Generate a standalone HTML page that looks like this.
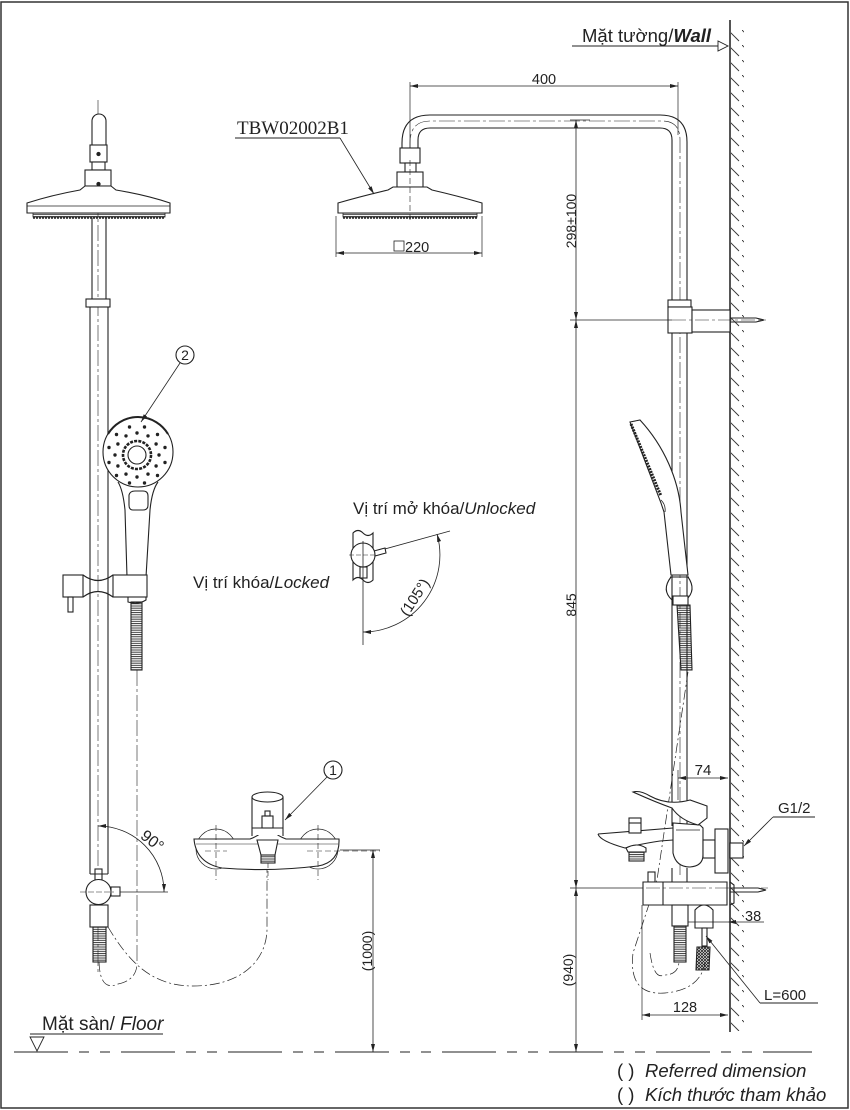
<!DOCTYPE html>
<html><head><meta charset="utf-8">
<style>
html,body{margin:0;padding:0;background:#fff;}
svg{display:block;}
text{font-family:"Liberation Sans",sans-serif;fill:#222;}
</style></head>
<body>
<svg width="850" height="1110" viewBox="0 0 850 1110" xmlns="http://www.w3.org/2000/svg">
<defs>
<marker id="ar" viewBox="0 0 10 10" refX="10" refY="5" markerWidth="8" markerHeight="8" markerUnits="userSpaceOnUse" orient="auto-start-reverse"><path d="M0,2.5 L10,5 L0,7.5 z" fill="#222"/></marker>
<pattern id="wh" patternUnits="userSpaceOnUse" width="14" height="15"><line x1="0" y1="0" x2="11" y2="11" stroke="#333" stroke-width="0.9"/></pattern>
<pattern id="hs" patternUnits="userSpaceOnUse" width="20" height="2.2"><line x1="0" y1="1" x2="20" y2="1" stroke="#222" stroke-width="0.9"/></pattern>
<pattern id="xh" patternUnits="userSpaceOnUse" width="3" height="3"><path d="M0,0 L3,3 M3,0 L0,3" stroke="#222" stroke-width="0.8"/></pattern>
</defs>

<!-- frame -->
<rect x="1" y="2" width="847" height="1106" fill="none" stroke="#333" stroke-width="1.5"/>

<g stroke="#222" fill="none" stroke-width="1.1">

<!-- ============ LEFT VIEW ============ -->
<line x1="98" y1="100" x2="98" y2="975" stroke-dasharray="16,3,3,3" stroke-width="0.6"/>
<path d="M92,145 V121 a7,7 0 0 1 14,0 V145" fill="#fff"/>
<rect x="90" y="145" width="17" height="17" fill="#fff"/>
<circle cx="98.5" cy="154" r="1.6" fill="#222"/>
<rect x="92" y="162" width="13" height="8" fill="#fff"/>
<rect x="85" y="170" width="26" height="16" fill="#fff"/>
<circle cx="98.5" cy="184" r="1.6" fill="#222"/>
<path d="M27,203 Q52,195 80,190 L85,186 H111 L116,190 Q146,195 170,203 V213 H27 Z" fill="#fff"/>
<line x1="27" y1="206" x2="170" y2="206" stroke-width="0.7"/>
<rect x="33" y="213" width="132" height="4" fill="url(#hs)" stroke-width="0.8"/>
<line x1="33" y1="218" x2="165" y2="218" stroke-width="1.6" stroke-dasharray="2,1"/>
<line x1="92" y1="218" x2="92" y2="299"/>
<line x1="106" y1="218" x2="106" y2="299"/>
<rect x="86" y="299" width="24" height="8" fill="#fff"/>
<line x1="90" y1="307" x2="90" y2="874"/>
<line x1="108" y1="307" x2="108" y2="874"/>

<!-- hand shower left -->
<path d="M118,482 Q123,490 125,510 L127,577 H146 L150,510 Q152,490 158,482" fill="#fff"/>
<path d="M129,495 Q130,491 135,491 H143 Q148,491 148,496 V505 Q148,510 143,510 H133 Q129,510 129,505 Z"/>
<circle cx="138" cy="452" r="35" fill="#fff"/>
<path d="M108,434 A35,35 0 0 1 168,434" stroke-width="2"/>
<circle cx="137" cy="455" r="14" stroke-width="2.6" stroke-dasharray="3,1.2"/>
<circle cx="137" cy="455" r="9" fill="#fff"/>
<g fill="#222" stroke="none">
<circle cx="159" cy="455" r="1.7"/><circle cx="156.1" cy="466" r="1.7"/><circle cx="148" cy="474.1" r="1.7"/><circle cx="137" cy="477" r="1.7"/><circle cx="126" cy="474.1" r="1.7"/><circle cx="117.9" cy="466" r="1.7"/><circle cx="115" cy="455" r="1.7"/><circle cx="117.9" cy="444" r="1.7"/><circle cx="126" cy="435.9" r="1.7"/><circle cx="137" cy="433" r="1.7"/><circle cx="148" cy="435.9" r="1.7"/><circle cx="156.1" cy="444" r="1.7"/>
<circle cx="165" cy="462.5" r="1.7"/><circle cx="157.5" cy="475.5" r="1.7"/><circle cx="144.5" cy="483" r="1.7"/><circle cx="129.5" cy="483" r="1.7"/><circle cx="116.5" cy="475.5" r="1.7"/><circle cx="109" cy="462.5" r="1.7"/><circle cx="109" cy="447.5" r="1.7"/><circle cx="116.5" cy="434.5" r="1.7"/><circle cx="129.5" cy="427" r="1.7"/><circle cx="144.5" cy="427" r="1.7"/><circle cx="157.5" cy="434.5" r="1.7"/><circle cx="165" cy="447.5" r="1.7"/>
</g>
<!-- holder -->
<rect x="63" y="575" width="20" height="22" fill="#fff"/>
<path d="M83,575 Q98,586 113,575 M83,597 Q98,586 113,597"/>
<rect x="113" y="575" width="34" height="22" fill="#fff"/>
<path d="M128,597 V602 Q138,605 146,600 V597"/>
<rect x="68" y="597" width="5" height="15"/>
<rect x="131" y="602" width="11" height="68" fill="url(#hs)"/>
<line x1="137" y1="670" x2="137" y2="963" stroke-dasharray="16,3,3,3" stroke-width="0.6"/>

<!-- diverter left -->
<rect x="95" y="869" width="7" height="11" fill="#fff"/>
<line x1="90" y1="874" x2="108" y2="874"/>
<circle cx="98.5" cy="892" r="12.5" fill="#fff"/>
<rect x="111" y="887" width="9" height="9" fill="#fff"/>
<line x1="80" y1="892" x2="114" y2="892" stroke-width="0.6" stroke-dasharray="6,2"/>
<rect x="90" y="905" width="18" height="22" fill="#fff"/>
<rect x="93" y="927" width="13" height="35" fill="url(#hs)"/>
<!-- 90 deg -->
<path d="M98,826 A66,66 0 0 1 164,892" stroke-width="0.8" marker-start="url(#ar)" marker-end="url(#ar)"/>
<line x1="120" y1="892" x2="168" y2="892" stroke-width="0.8"/>
<!-- hose dash left -->
<path d="M99,962 Q100,992 118,984 Q137,980 137,963" stroke-dasharray="10,3,2,3" stroke-width="0.7"/>
<path d="M108,927 C128,960 150,986 193,986 C240,986 266,962 267,930 L267,862" stroke-dasharray="10,3,2,3" stroke-width="0.7"/>

<!-- faucet front -->
<circle cx="216" cy="849" r="20" stroke-width="0.7"/>
<circle cx="318" cy="849" r="20" stroke-width="0.7"/>
<path d="M194,839 H250 Q258,836 262,832 H274 Q278,836 286,839 H339 Q340,862 318,866 Q270,872 222,868 Q196,863 194,839 Z" fill="#fff"/>
<path d="M196,844 H338" stroke-width="0.6"/>
<path d="M216,825 V880 M318,825 V880" stroke-width="0.6" stroke-dasharray="6,3"/>
<path d="M205,851 H227 M307,851 H380" stroke-width="0.6" stroke-dasharray="6,3"/>
<rect x="252" y="797" width="31" height="38" fill="#fff" stroke="none"/>
<line x1="252" y1="797" x2="252" y2="836"/><line x1="283" y1="797" x2="283" y2="836"/>
<ellipse cx="267.5" cy="797" rx="15.5" ry="5" fill="#fff"/>
<rect x="262" y="816" width="11" height="12"/>
<rect x="265" y="811" width="5" height="5"/>
<line x1="252" y1="828" x2="283" y2="828"/>
<path d="M257,840 L278,840 L275,855 H261 Z" fill="#fff"/>
<rect x="261" y="855" width="14" height="8" fill="url(#hs)"/>
<line x1="268" y1="863" x2="268" y2="880" stroke-width="0.6" stroke-dasharray="5,3"/>
<circle cx="333" cy="770" r="9" fill="#fff"/>
<line x1="327" y1="777" x2="285" y2="820" stroke-width="0.8" marker-end="url(#ar)"/>
<!-- (1000) -->
<line x1="340" y1="850" x2="380" y2="850" stroke-width="0.7"/>
<line x1="373" y1="850" x2="373" y2="1052" stroke-width="0.8" marker-start="url(#ar)" marker-end="url(#ar)"/>

<!-- balloon 2 -->
<circle cx="185" cy="355" r="9" fill="#fff"/>
<line x1="180" y1="363" x2="141" y2="422" stroke-width="0.8" marker-end="url(#ar)"/>

<!-- lock diagram -->
<path d="M353,533 Q358,528 363,533 Q368,538 373,533 V580 Q368,585 363,580 Q358,575 353,580 Z" fill="#fff"/>
<line x1="363" y1="555" x2="450" y2="531" stroke-width="0.8"/>
<path d="M374,551 L385,548 L386,553 L375,556" fill="#fff"/>
<circle cx="363" cy="555" r="12" fill="#fff"/>
<line x1="349" y1="555" x2="377" y2="555" stroke-width="0.6" stroke-dasharray="5,2"/>
<rect x="360" y="567" width="7" height="11" fill="#fff"/>
<line x1="363" y1="541" x2="363" y2="645" stroke-width="0.8"/>
<path d="M363,632 A77,77 0 0 0 437,534" stroke-width="0.8" marker-start="url(#ar)" marker-end="url(#ar)"/>

<!-- ============ FLOOR ============ -->
<line x1="14" y1="1052" x2="812" y2="1052" stroke-width="1" stroke-dasharray="54,11,10,11,10,11"/>
<path d="M30,1037 L44,1037 L37,1051 Z" fill="#fff" stroke-width="0.9"/>
<line x1="30" y1="1034" x2="163" y2="1034" stroke-width="0.9"/>

<!-- ============ RIGHT VIEW ============ -->
<rect x="731" y="28" width="13" height="1003" fill="url(#wh)" stroke="none"/>
<line x1="730" y1="20" x2="730" y2="1032" stroke="#555" stroke-width="2"/>
<line x1="572" y1="46" x2="728" y2="46" stroke-width="0.9"/>
<path d="M718,41 L718,51 L728,46 Z" fill="#fff" stroke-width="0.9"/>

<!-- overhead pipe -->
<path d="M402,150 V143 Q402,115 430,115 H660 Q687,115 687,142 V300"/>
<path d="M418,148 V140 Q418,128 430,128 H660 Q672,128 672,140 V300"/>
<path d="M410,150 V143 Q410,121 430,121 H662 Q680,121 680,140 V875" stroke-width="0.6" stroke-dasharray="16,3,3,3"/>
<!-- 400 -->
<line x1="410" y1="82" x2="410" y2="148" stroke-width="0.7"/>
<line x1="678" y1="82" x2="678" y2="135" stroke-width="0.7"/>
<line x1="410" y1="86" x2="678" y2="86" stroke-width="0.8" marker-start="url(#ar)" marker-end="url(#ar)"/>

<!-- right rain head -->
<rect x="400" y="148" width="20" height="15" fill="#fff"/>
<rect x="405" y="163" width="11" height="9" fill="#fff"/>
<rect x="397" y="172" width="26" height="15" fill="#fff"/>
<path d="M338,203 Q362,196 388,190 L393,187 H427 L432,190 Q458,196 482,203 V213 H338 Z" fill="#fff"/>
<line x1="410" y1="160" x2="410" y2="222" stroke-width="0.6" stroke-dasharray="6,3"/>
<rect x="343" y="213" width="134" height="4" fill="url(#hs)" stroke-width="0.8"/>
<line x1="343" y1="218" x2="477" y2="218" stroke-width="1.6" stroke-dasharray="2,1"/>
<line x1="336" y1="216" x2="336" y2="257" stroke-width="0.7"/>
<line x1="482" y1="216" x2="482" y2="257" stroke-width="0.7"/>
<line x1="336" y1="253" x2="482" y2="253" stroke-width="0.8" marker-start="url(#ar)" marker-end="url(#ar)"/>
<rect x="394" y="241" width="10" height="10" stroke-width="0.8"/>
<!-- TBW label -->
<line x1="235" y1="138" x2="340" y2="138" stroke-width="0.9"/>
<line x1="340" y1="138" x2="374" y2="194" stroke-width="0.8" marker-end="url(#ar)"/>

<!-- bracket -->
<rect x="668" y="300" width="23" height="7" fill="#fff"/>
<rect x="668" y="307" width="24" height="26" fill="#fff"/>
<rect x="692" y="310" width="38" height="22" fill="#fff"/>
<line x1="672" y1="333" x2="672" y2="826"/>
<line x1="687" y1="333" x2="687" y2="826"/>
<line x1="672" y1="868" x2="672" y2="882"/>
<line x1="687" y1="868" x2="687" y2="882"/>
<path d="M730,318 H756 L764,320 L756,322 H730"/>
<line x1="672" y1="320" x2="766" y2="320" stroke-width="0.6" stroke-dasharray="14,3,3,3"/>
<!-- vertical dims -->
<line x1="570" y1="120" x2="590" y2="120" stroke-width="0.7"/>
<line x1="570" y1="320" x2="672" y2="320" stroke-width="0.8"/>
<line x1="570" y1="888" x2="646" y2="888" stroke-width="0.8"/>
<line x1="576" y1="120" x2="576" y2="320" stroke-width="0.8" marker-start="url(#ar)" marker-end="url(#ar)"/>
<line x1="576" y1="320" x2="576" y2="888" stroke-width="0.8" marker-start="url(#ar)" marker-end="url(#ar)"/>
<line x1="576" y1="888" x2="576" y2="1052" stroke-width="0.8" marker-start="url(#ar)" marker-end="url(#ar)"/>

<!-- hand shower side -->
<path d="M630,422 L640,420 C664,446 679,480 681,512 L688,575 H671 L664,512 L661,503 Z" fill="#fff"/>
<line x1="631" y1="424" x2="661" y2="496" stroke-width="3" stroke-dasharray="2,1"/>
<path d="M661,500 Q666,505 665,512" stroke-width="0.8"/>
<path d="M671,577 Q661,590 672,600 M688,577 Q697,590 686,600"/>
<line x1="670" y1="577" x2="689" y2="577"/>
<rect x="673" y="596" width="15" height="9" fill="#fff"/>
<path d="M677,605 L690,605 L692,670 L681,670 Z" fill="url(#hs)"/>
<!-- hose dash right -->
<path d="M688,672 L657,880 L633,953 Q628,996 665,993 Q700,990 705,963" stroke-dasharray="10,3,2,3" stroke-width="0.7"/>
<path d="M650,953 Q654,980 664,975 Q678,975 679,962" stroke-dasharray="10,3,2,3" stroke-width="0.7"/>

<!-- faucet side -->
<line x1="678" y1="770" x2="678" y2="800" stroke-width="0.7"/>
<line x1="678" y1="778" x2="728" y2="778" stroke-width="0.8" marker-start="url(#ar)" marker-end="url(#ar)"/>
<path d="M673,823 V853 Q676,867 690,867 Q703,866 703,855 V828 L700,825 Z" fill="#fff"/>
<path d="M676,830 H700" stroke-width="0.7"/>
<path d="M633,792 Q640,790 650,796 Q668,806 690,800 L707,806 V818 L698,825 Q680,820 672,808 Q655,802 633,792 Z" fill="#fff"/>
<path d="M598,834 L673,828 M598,834 Q600,841 625,848 Q640,844 660,841 L673,840"/>
<rect x="629" y="818" width="12" height="15" fill="#fff"/>
<line x1="629" y1="823" x2="641" y2="823"/>
<path d="M626,848 Q637,842 646,848 V852 H628 Z" fill="#fff"/>
<rect x="629" y="852" width="15" height="9" fill="url(#hs)"/>
<rect x="703" y="840" width="12" height="18" fill="#fff"/>
<rect x="715" y="829" width="13" height="44" fill="#fff"/>
<rect x="730" y="843" width="13" height="15" fill="#fff"/>
<!-- lower mixer -->
<rect x="648" y="872" width="7" height="10" fill="#fff"/>
<path d="M643,882 H727 V905 H643 Z" fill="#fff"/>
<line x1="663" y1="882" x2="663" y2="905"/>
<line x1="642" y1="905" x2="642" y2="1020" stroke-width="0.7"/>
<path d="M730,882 L734,885 V903 L730,905" />
<path d="M730,888 H758 L766,890 L758,892 H730"/>
<line x1="646" y1="888" x2="768" y2="888" stroke-width="0.6" stroke-dasharray="14,3,3,3"/>
<rect x="672" y="905" width="16" height="21" fill="#fff"/>
<rect x="674" y="926" width="12" height="36" fill="url(#hs)"/>
<path d="M695,928 V910 Q704,900 713,910 V928 Z" fill="#fff"/>
<rect x="702" y="928" width="5" height="18"/>
<path d="M697,947 L710,947 L709,970 L696,970 Z" fill="url(#xh)"/>
<!-- 38 -->
<line x1="688" y1="922" x2="728" y2="922" stroke-width="0.8"/>
<line x1="728" y1="922" x2="764" y2="922" stroke-width="0.8" marker-start="url(#ar)"/>
<!-- 128 -->
<line x1="642" y1="1015" x2="728" y2="1015" stroke-width="0.8" marker-start="url(#ar)" marker-end="url(#ar)"/>
<!-- G1/2 leader -->
<line x1="773" y1="817" x2="815" y2="817" stroke-width="0.9"/>
<line x1="773" y1="817" x2="744" y2="846" stroke-width="0.8" marker-end="url(#ar)"/>
<!-- L=600 -->
<line x1="760" y1="1003" x2="818" y2="1003" stroke-width="0.9"/>
<line x1="760" y1="1003" x2="706" y2="936" stroke-width="0.8" marker-end="url(#ar)"/>
</g>

<!-- ============ TEXT ============ -->
<text x="237" y="134" style="font-family:'Liberation Serif',serif;font-size:19px">TBW02002B1</text>
<text x="582" y="42" font-size="18.5">Mặt tường/<tspan font-style="italic" font-weight="bold">Wall</tspan></text>
<text x="544" y="84" font-size="14.5" text-anchor="middle">400</text>
<text x="405" y="252" font-size="14.5">220</text>
<text transform="translate(576,221) rotate(-90)" font-size="14" text-anchor="middle">298±100</text>
<text transform="translate(576,605) rotate(-90)" font-size="14" text-anchor="middle">845</text>
<text transform="translate(573,970) rotate(-90)" font-size="14" text-anchor="middle">(940)</text>
<text transform="translate(372,951) rotate(-90)" font-size="14" text-anchor="middle">(1000)</text>
<text x="185" y="360" font-size="14" text-anchor="middle">2</text>
<text x="333" y="775" font-size="14" text-anchor="middle">1</text>
<text x="353" y="514" font-size="17">Vị trí mở khóa/<tspan font-style="italic">Unlocked</tspan></text>
<text x="193" y="588" font-size="17">Vị trí khóa/<tspan font-style="italic">Locked</tspan></text>
<text transform="translate(419,600) rotate(-57)" font-size="15" text-anchor="middle">(105°)</text>
<text transform="translate(149,845) rotate(38)" font-size="16" text-anchor="middle">90°</text>
<text x="703" y="775" font-size="15" text-anchor="middle">74</text>
<text x="778" y="813" font-size="15">G1/2</text>
<text x="745" y="921" font-size="14.5">38</text>
<text x="764" y="1000" font-size="15">L=600</text>
<text x="685" y="1012" font-size="14.5" text-anchor="middle">128</text>
<text x="42" y="1030" font-size="19">Mặt sàn/ <tspan font-style="italic">Floor</tspan></text>
<text x="617" y="1077" font-size="18.5">( )</text>
<text x="645" y="1077" font-size="18.5" font-style="italic">Referred dimension</text>
<text x="617" y="1101" font-size="18.5">( )</text>
<text x="645" y="1101" font-size="18.5" font-style="italic">Kích thước tham khảo</text>
</svg>
</body></html>
